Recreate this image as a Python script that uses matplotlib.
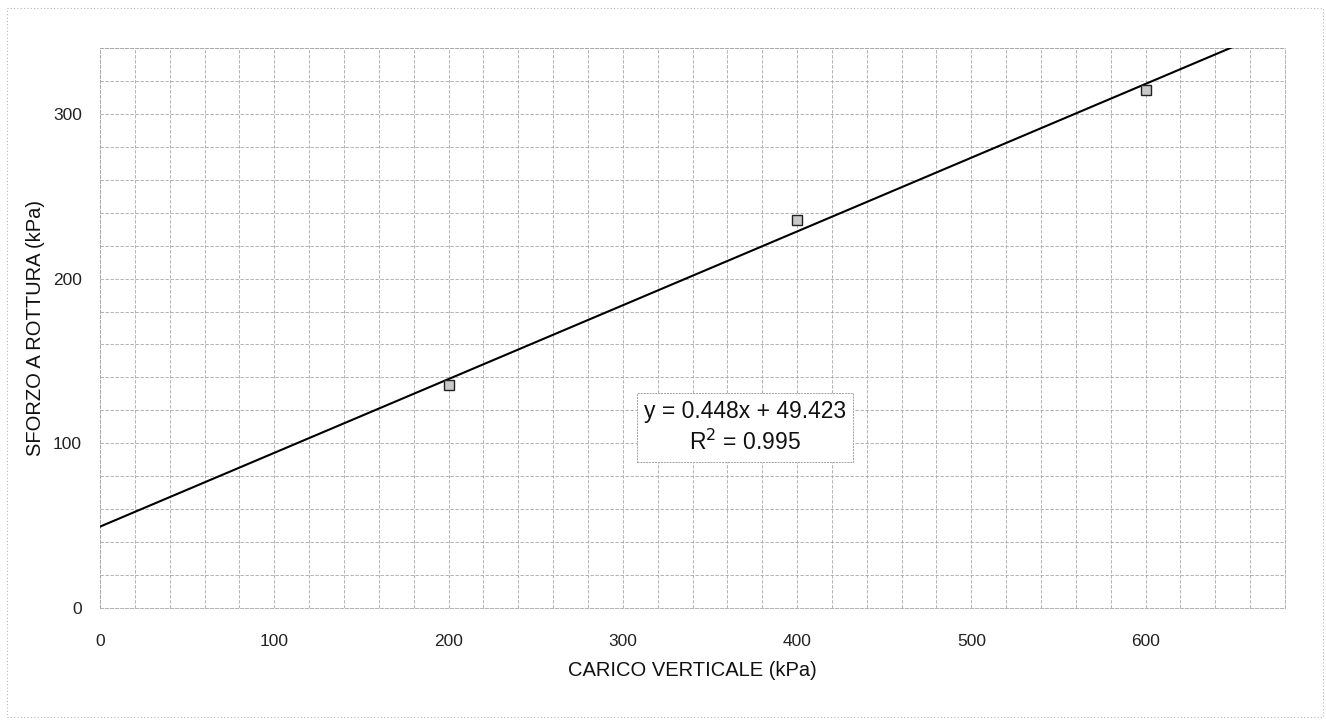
import numpy as np
import matplotlib
matplotlib.use('Agg')
import matplotlib.pyplot as plt
from matplotlib.ticker import MultipleLocator
import matplotlib.patches as patches

# prove di taglio: carico verticale vs sforzo a rottura
carico = [200, 400, 600]
sforzo = [135.5, 235.6, 314.7]

eq_text = "y = 0.448x + 49.423\nR$^2$ = 0.995"

plt.rcParams['font.family'] = ['Liberation Sans', 'DejaVu Sans']

fig = plt.figure(figsize=(13.26, 7.2), dpi=100)
ax = fig.add_axes([100/1326, 112/720, 1185/1326, 560/720])

# outer chart border (dotted, like the scanned Excel frame)
fig.add_artist(patches.Rectangle((7/1326, 3/720), 1316/1326, 709/720,
                                 transform=fig.transFigure, fill=False,
                                 edgecolor='#b8b8b8', linestyle=(0, (1, 2)), linewidth=0.8))

ax.set_xlim(0, 680)
ax.set_ylim(0, 340)

ax.xaxis.set_major_locator(MultipleLocator(100))
ax.yaxis.set_major_locator(MultipleLocator(100))
ax.xaxis.set_minor_locator(MultipleLocator(20))
ax.yaxis.set_minor_locator(MultipleLocator(20))
ax.grid(True, which='both', color='#a6a6a6', linestyle=(0, (4, 2)), linewidth=0.6)
ax.set_axisbelow(True)

ax.tick_params(which='both', length=0)
ax.tick_params(axis='x', labelsize=12.5, pad=19, labelcolor='#222222')
ax.tick_params(axis='y', labelsize=12.5, pad=13, labelcolor='#222222')

for s in ax.spines.values():
    s.set_color('#a6a6a6')
    s.set_linestyle((0, (4, 2)))
    s.set_linewidth(0.6)

# linear trendline from the data
k, q = np.polyfit(carico, sforzo, 1)
xs = np.array([0, 680])
ax.plot(xs, k * xs + q, color='black', linewidth=1.5, zorder=3)

ax.plot(carico, sforzo, linestyle='none', marker='s', markersize=7,
        markerfacecolor='#c8c8c8', markeredgecolor='#222222', markeredgewidth=1.0, zorder=4)

ax.text(370, 109.5, eq_text, ha='center', va='center', fontsize=16.5, color='#111111',
        linespacing=1.35, zorder=5,
        bbox=dict(boxstyle='square,pad=0.3', facecolor='white', edgecolor='#a0a0a0',
                  linestyle=(0, (2, 1)), linewidth=0.7))

ax.set_xlabel("CARICO VERTICALE (kPa)", fontsize=14.5, labelpad=8, color='#111111')
ax.set_ylabel("SFORZO A ROTTURA (kPa)", fontsize=14.5, labelpad=6, color='#111111')

fig.savefig("out.png", dpi=100)
